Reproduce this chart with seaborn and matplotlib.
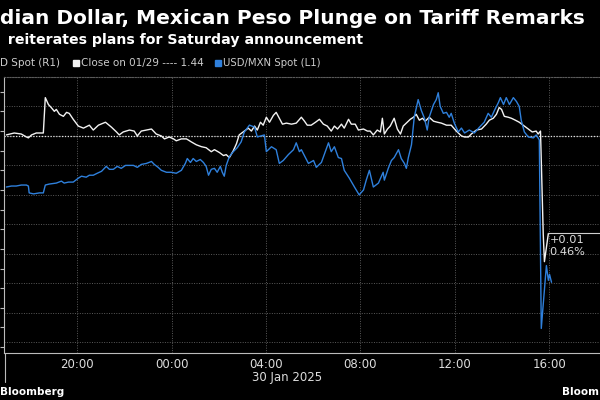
import pandas as pd
import numpy as np
import matplotlib.pyplot as plt
import matplotlib.dates as mdates
from matplotlib.lines import Line2D
from matplotlib.patches import Rectangle
import seaborn as sns

# USD/CAD spot (R1, inverted axis), 29-30 Jan 2025
cad_times = [
    "17:00", "17:20", "17:38", "17:51", "17:56", "18:04", "18:16", "18:34", "18:39", "18:47",
    "18:54", "19:02", "19:07", "19:15", "19:25", "19:33", "19:40", "19:50", "20:03", "20:16",
    "20:31", "20:41", "20:54", "21:12", "21:27", "21:40", "21:47", "21:57", "22:13", "22:25",
    "22:33", "22:43", "22:56", "23:09", "23:21", "23:34", "23:42", "23:54", "00:05", "00:12",
    "00:25", "00:38", "00:50", "01:03", "01:16", "01:28", "01:41", "01:49", "02:02", "02:12",
    "02:19", "02:27", "02:37", "02:45", "02:52", "03:05", "03:15", "03:23", "03:31", "03:38",
    "03:46", "03:53", "04:01", "04:09", "04:19", "04:26", "04:34", "04:42", "04:52", "05:05",
    "05:17", "05:30", "05:38", "05:45", "05:55", "06:06", "06:16", "06:26", "06:36", "06:46",
    "06:54", "07:02", "07:12", "07:19", "07:30", "07:37", "07:47", "07:55", "08:08", "08:18",
    "08:25", "08:33", "08:43", "08:51", "08:56", "09:01", "09:09", "09:16", "09:26", "09:34",
    "09:42", "09:49", "09:57", "10:07", "10:15", "10:22", "10:30", "10:38", "10:45", "10:55",
    "11:06", "11:16", "11:26", "11:39", "11:51", "12:04", "12:17", "12:25", "12:35", "12:42",
    "12:55", "13:08", "13:20", "13:28", "13:38", "13:46", "13:53", "13:59", "14:06", "14:16",
    "14:24", "14:34", "14:44", "14:54", "15:07", "15:17", "15:27", "15:32", "15:38", "15:45",
    "15:48", "15:58",
]
cad_values = [
    1.43993, 1.43980, 1.43987, 1.44007, 1.44013, 1.43993, 1.43980, 1.43980, 1.43740, 1.43787,
    1.43807, 1.43833, 1.43820, 1.43853, 1.43867, 1.43840, 1.43847, 1.43887, 1.43933, 1.43947,
    1.43927, 1.43960, 1.43927, 1.43907, 1.43940, 1.43973, 1.43993, 1.43973, 1.43960, 1.43967,
    1.44000, 1.43967, 1.43960, 1.43953, 1.43987, 1.44000, 1.44020, 1.44007, 1.44020, 1.44033,
    1.44020, 1.44020, 1.44040, 1.44060, 1.44073, 1.44080, 1.44107, 1.44093, 1.44113, 1.44133,
    1.44127, 1.44147, 1.44100, 1.44053, 1.43993, 1.43967, 1.43947, 1.43967, 1.43933, 1.43960,
    1.43907, 1.43927, 1.43873, 1.43907, 1.43860, 1.43840, 1.43880, 1.43920, 1.43913, 1.43920,
    1.43913, 1.43873, 1.43900, 1.43927, 1.43927, 1.43907, 1.43887, 1.43920, 1.43933, 1.43967,
    1.43933, 1.43953, 1.43920, 1.43947, 1.43887, 1.43920, 1.43920, 1.43960, 1.43953, 1.43967,
    1.43967, 1.43993, 1.43960, 1.43973, 1.43880, 1.43987, 1.43953, 1.43933, 1.43880, 1.43953,
    1.43987, 1.43933, 1.43913, 1.43887, 1.43873, 1.43853, 1.43893, 1.43880, 1.43900, 1.43873,
    1.43900, 1.43907, 1.43913, 1.43927, 1.43927, 1.43967, 1.44000, 1.44007, 1.44007, 1.43987,
    1.43960, 1.43953, 1.43920, 1.43893, 1.43880, 1.43853, 1.43807, 1.43820, 1.43867, 1.43873,
    1.43880, 1.43893, 1.43907, 1.43927, 1.43953, 1.43973, 1.43967, 1.43987, 1.43967, 1.44667,
    1.44853, 1.44662,
]
cad_close = 1.44

# USD/MXN spot (L1, inverted axis)
mxn_times = [
    "17:00", "17:13", "17:25", "17:38", "17:51", "17:56", "17:58", "18:09", "18:24", "18:34",
    "18:39", "18:49", "19:07", "19:20", "19:27", "19:38", "19:50", "20:03", "20:11", "20:23",
    "20:31", "20:41", "20:51", "21:02", "21:09", "21:14", "21:22", "21:32", "21:42", "21:52",
    "22:03", "22:13", "22:23", "22:33", "22:43", "22:56", "23:09", "23:16", "23:26", "23:34",
    "23:47", "23:59", "00:12", "00:25", "00:35", "00:40", "00:48", "00:55", "01:03", "01:13",
    "01:21", "01:28", "01:34", "01:41", "01:49", "01:56", "02:04", "02:09", "02:14", "02:19",
    "02:27", "02:37", "02:47", "02:57", "03:05", "03:18", "03:31", "03:38", "03:56", "04:01",
    "04:14", "04:26", "04:34", "04:44", "04:57", "05:10", "05:17", "05:25", "05:30", "05:48",
    "06:01", "06:08", "06:21", "06:39", "06:46", "06:54", "07:04", "07:12", "07:19", "07:32",
    "07:45", "07:57", "08:08", "08:15", "08:23", "08:33", "08:46", "08:58", "09:01", "09:11",
    "09:19", "09:26", "09:37", "09:44", "09:52", "09:57", "10:02", "10:10", "10:17", "10:27",
    "10:35", "10:43", "10:50", "10:55", "11:06", "11:13", "11:18", "11:23", "11:31", "11:39",
    "11:46", "11:51", "11:59", "12:09", "12:17", "12:25", "12:37", "12:50", "13:03", "13:15",
    "13:25", "13:33", "13:41", "13:51", "13:56", "14:04", "14:11", "14:19", "14:29", "14:37",
    "14:44", "14:49", "14:57", "15:07", "15:20", "15:27", "15:32", "15:35", "15:40", "15:53",
    "15:58", "16:01", "16:06",
]
mxn_values = [
    20.657, 20.656, 20.656, 20.655, 20.655, 20.656, 20.663, 20.664, 20.663, 20.663,
    20.655, 20.654, 20.653, 20.651, 20.653, 20.652, 20.652, 20.648, 20.646, 20.647,
    20.645, 20.645, 20.643, 20.641, 20.638, 20.636, 20.639, 20.639, 20.636, 20.638,
    20.635, 20.635, 20.635, 20.637, 20.634, 20.633, 20.631, 20.634, 20.637, 20.640,
    20.642, 20.642, 20.643, 20.640, 20.633, 20.628, 20.632, 20.628, 20.631, 20.629,
    20.632, 20.636, 20.645, 20.639, 20.638, 20.642, 20.636, 20.642, 20.646, 20.635,
    20.626, 20.621, 20.617, 20.611, 20.601, 20.594, 20.596, 20.606, 20.604, 20.621,
    20.616, 20.619, 20.633, 20.630, 20.624, 20.619, 20.612, 20.621, 20.619, 20.633,
    20.630, 20.637, 20.632, 20.612, 20.621, 20.616, 20.627, 20.628, 20.640, 20.648,
    20.657, 20.665, 20.660, 20.650, 20.640, 20.657, 20.653, 20.642, 20.650, 20.638,
    20.630, 20.627, 20.619, 20.628, 20.633, 20.638, 20.627, 20.614, 20.586, 20.568,
    20.579, 20.587, 20.599, 20.586, 20.573, 20.568, 20.561, 20.575, 20.582, 20.581,
    20.586, 20.582, 20.592, 20.601, 20.597, 20.602, 20.599, 20.602, 20.596, 20.591,
    20.582, 20.586, 20.579, 20.571, 20.566, 20.573, 20.566, 20.573, 20.566, 20.570,
    20.575, 20.589, 20.601, 20.606, 20.607, 20.604, 20.607, 20.609, 20.801, 20.737,
    20.752, 20.746, 20.754,
]


def to_stamps(times):
    # session runs from 17:00 on 29 Jan to 16:00 on 30 Jan
    out = []
    for t in times:
        day = "2025-01-29" if int(t[:2]) >= 17 else "2025-01-30"
        out.append(pd.Timestamp(f"{day} {t}"))
    return pd.Series(out)


cad = pd.DataFrame({"time": to_stamps(cad_times), "value": cad_values})
mxn = pd.DataFrame({"time": to_stamps(mxn_times), "value": mxn_values})

sns.set_theme(style="dark", rc={
    "figure.facecolor": "black", "axes.facecolor": "black",
    "savefig.facecolor": "black", "text.color": "#e6e6e6",
    "xtick.color": "#bbbbbb", "ytick.color": "#bbbbbb",
})
plt.rcParams["font.family"] = ["DejaVu Sans"]

WHITE = "#f2f2f2"
BLUE = "#2f80dc"
GRID = "#5a5a5a"

fig = plt.figure(figsize=(6, 4), dpi=100)
# plot area runs off the right edge, as in the cropped original
ax_cad = fig.add_axes([4 / 600, 47 / 400, 636 / 600, 276 / 400])
ax_mxn = ax_cad.twinx()

sns.lineplot(data=cad, x="time", y="value", ax=ax_cad, color=WHITE, linewidth=1.0)
sns.lineplot(data=mxn, x="time", y="value", ax=ax_mxn, color=BLUE, linewidth=1.0)

ax_cad.axhline(cad_close, color="#e0e0e0", linestyle=(0, (1, 1.3)), linewidth=0.9, zorder=1)

# last-value leader line and change label
t_last, v_last = cad["time"].iloc[-1], cad["value"].iloc[-1]
x_end = pd.Timestamp("2025-01-30 19:51")
ax_cad.plot([t_last, x_end], [v_last, v_last], color="#cfcfcf", linewidth=0.8)
diff = v_last - cad_close
ax_cad.annotate(f"+{diff:.2f}\n{diff / cad_close * 100:.2f}%", xy=(t_last, v_last),
                xytext=(1, -1), textcoords="offset points", ha="left", va="top",
                fontsize=8.2, color="#dddddd", linespacing=1.25)

ax_cad.set_xlim(pd.Timestamp("2025-01-29 16:54"), x_end)
ax_cad.set_ylim(1.45473, 1.43633)
ax_mxn.set_ylim(20.826, 20.545)

ax_cad.xaxis.set_major_locator(mdates.HourLocator(byhour=range(0, 24, 4)))
ax_cad.xaxis.set_minor_locator(mdates.HourLocator(byhour=range(2, 24, 4)))
ax_cad.xaxis.set_major_formatter(mdates.DateFormatter("%H:%M"))
ax_cad.set_yticks(np.arange(1.436, 1.4551, 0.002))
ax_cad.yaxis.tick_right()
ax_cad.set_yticklabels([])
ax_cad.tick_params(axis="x", which="both", direction="out", length=3, width=0.8,
                   colors="#bbbbbb", labelsize=8.5, labelcolor="#dddddd", pad=0.5)
ax_cad.tick_params(axis="y", length=0)
ax_cad.grid(True, axis="both", which="major", color=GRID, linestyle=(0, (1, 1.5)), linewidth=0.7)
ax_cad.set_xlabel("")
ax_cad.set_ylabel("")

ax_mxn.yaxis.tick_left()
ax_mxn.set_yticks(np.arange(20.56, 20.821, 0.02))
ax_mxn.set_yticklabels([])
ax_mxn.tick_params(axis="y", direction="out", length=3, width=0.8, colors="#bbbbbb")
ax_mxn.grid(False)
ax_mxn.set_ylabel("")

for sp in ax_mxn.spines.values():
    sp.set_visible(False)
ax_cad.spines["right"].set_visible(False)
ax_cad.spines["bottom"].set_color("#bbbbbb")
ax_cad.spines["left"].set_color("#bbbbbb")
ax_cad.spines["top"].set_color(GRID)
ax_cad.spines["top"].set_linestyle((0, (1, 1.5)))
for side in ["bottom", "left", "top"]:
    ax_cad.spines[side].set_visible(True)
    ax_cad.spines[side].set_linewidth(0.8)

# day separator below the axis
fig.add_artist(Line2D([4.5 / 600, 4.5 / 600], [18 / 400, 47 / 400], color="#bbbbbb", linewidth=0.8))
fig.text(287 / 600, 1 - 378 / 400, "30 Jan 2025", ha="center", va="center", fontsize=8.5, color="#dddddd")

# titles
fig.text(0.0, 1 - 18 / 400, "dian Dollar, Mexican Peso Plunge on Tariff Remarks",
         ha="left", va="center", fontsize=14.5, fontweight="bold", color="white")
fig.text(3 / 600, 1 - 40 / 400, " reiterates plans for Saturday announcement",
         ha="left", va="center", fontsize=10.2, fontweight="bold", color="white")

# legend row
ly = 1 - 63 / 400
fig.text(0.0, ly, "D Spot (R1)", ha="left", va="center", fontsize=7.5, color="#cccccc")
fig.add_artist(Rectangle((73 / 600, ly - 3 / 400), 6 / 600, 6 / 400, transform=fig.transFigure, color=WHITE))
fig.text(81 / 600, ly, "Close on 01/29 ---- 1.44", ha="left", va="center", fontsize=7.5, color="#cccccc")
fig.add_artist(Rectangle((215 / 600, ly - 3 / 400), 6 / 600, 6 / 400, transform=fig.transFigure, color=BLUE))
fig.text(223 / 600, ly, "USD/MXN Spot (L1)", ha="left", va="center", fontsize=7.3, color="#cccccc")

fig.text(0.0, 1 - 392 / 400, "Bloomberg", ha="left", va="center", fontsize=7.5, fontweight="bold", color="white")
fig.text(599 / 600, 1 - 392 / 400, "Bloom", ha="right", va="center", fontsize=7.5, fontweight="bold", color="white")

fig.savefig("out.png", dpi=100)
